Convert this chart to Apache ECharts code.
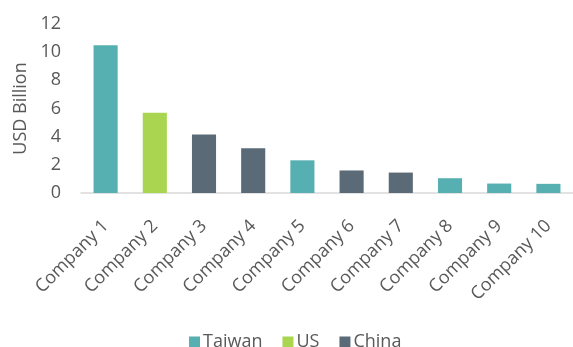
<!DOCTYPE html>
<html><head><meta charset="utf-8">
<script src="https://cdn.jsdelivr.net/npm/echarts@6/dist/echarts.min.js"></script>
<style>html,body{margin:0;padding:0;background:#fff}#c{width:573px;height:347px}</style>
</head><body><div id="c"></div>
<script>
const categories = ['Company 1','Company 2','Company 3','Company 4','Company 5','Company 6','Company 7','Company 8','Company 9','Company 10'];
const values = [10.5, 5.7, 4.15, 3.17, 2.32, 1.6, 1.45, 1.05, 0.67, 0.65];
const countries = ['Taiwan','US','China','China','Taiwan','China','China','Taiwan','Taiwan','Taiwan'];
const seriesNames = ['Taiwan','US','China'];
const colors = {Taiwan:'#56AFB0', US:'#A9D551', China:'#5A6B77'};
const yTicks = [0,2,4,6,8,10,12];
const FONT = 'Open Sans';
const chart = echarts.init(document.getElementById('c'));
chart.setOption({
  animation:false,
  textStyle:{fontFamily:FONT},
  legend:{top:328,left:184,itemWidth:11,itemHeight:11,itemGap:20,icon:'rect',
    textStyle:{fontFamily:FONT,fontSize:18,color:'#595959',padding:[0,0,0,-2]},data:seriesNames},
  grid:{left:81,top:24,width:495,bottom:154,containLabel:false},
  xAxis:{type:'category',data:categories,
    axisLine:{lineStyle:{color:'#D9D9D9',width:1.5}},axisTick:{show:false},
    axisLabel:{rotate:45,interval:0,fontFamily:FONT,fontSize:18,color:'#595959',margin:30}},
  yAxis:{type:'value',min:yTicks[0],max:yTicks[yTicks.length-1],interval:2,
    name:'USD Billion',nameLocation:'middle',nameGap:51,nameRotate:90,
    nameTextStyle:{fontFamily:FONT,fontSize:18,color:'#595959'},
    splitLine:{show:false},axisLine:{show:false},axisTick:{show:false},
    axisLabel:{fontFamily:FONT,fontSize:18,color:'#595959',margin:20}},
  series: seriesNames.map(n=>({
    name:n,type:'bar',stack:'all',barWidth:'49%',
    itemStyle:{color:colors[n]},
    data: values.map((v,i)=>countries[i]===n?v:null)
  }))
});
</script></body></html>
